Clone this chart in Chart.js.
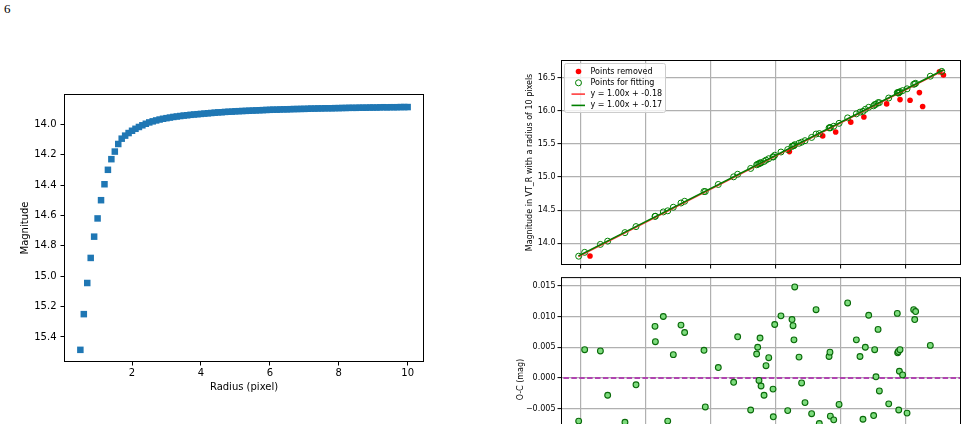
<!DOCTYPE html>
<html>
<head>
<meta charset="utf-8">
<script src="https://cdn.jsdelivr.net/npm/chart.js@4.4.1/dist/chart.umd.min.js"></script>
<style>
  html, body { margin: 0; padding: 0; overflow: hidden; background: #fff; width: 968px; height: 424px; }
  canvas { position: absolute; }
  #pagenum { position: absolute; left: 4px; top: 2px; font: 13px/13px "Liberation Serif", serif; color: #000; }
</style>
</head>
<body>
<div id="pagenum">6</div>
<canvas id="growth" width="440" height="320" style="left:0;top:80px"></canvas>
<canvas id="calib" width="468" height="232" style="left:500px;top:40px"></canvas>
<canvas id="resid" width="468" height="232" style="left:500px;top:272px"></canvas>
<script>
// --- curve of growth (left panel) ---
const radiusPx = [0.5, 0.6, 0.7, 0.8, 0.9, 1.0, 1.1, 1.2, 1.3, 1.4, 1.5, 1.6, 1.7, 1.8, 1.9,
  2.0, 2.1, 2.2, 2.3, 2.4, 2.5, 2.6, 2.7, 2.8, 2.9, 3.0, 3.1, 3.2, 3.3, 3.4, 3.5, 3.6, 3.7, 3.8, 3.9,
  4.0, 4.1, 4.2, 4.3, 4.4, 4.5, 4.6, 4.7, 4.8, 4.9, 5.0, 5.1, 5.2, 5.3, 5.4, 5.5, 5.6, 5.7, 5.8, 5.9,
  6.0, 6.1, 6.2, 6.3, 6.4, 6.5, 6.6, 6.7, 6.8, 6.9, 7.0, 7.1, 7.2, 7.3, 7.4, 7.5, 7.6, 7.7, 7.8, 7.9,
  8.0, 8.1, 8.2, 8.3, 8.4, 8.5, 8.6, 8.7, 8.8, 8.9, 9.0, 9.1, 9.2, 9.3, 9.4, 9.5, 9.6, 9.7, 9.8, 9.9, 10.0];
const magnitude = [15.485, 15.25, 15.045, 14.88, 14.74, 14.62, 14.50, 14.395, 14.30, 14.23, 14.18, 14.13, 14.095, 14.075, 14.058,
  14.043, 14.030, 14.018, 14.007, 13.997, 13.988, 13.981, 13.975, 13.969, 13.964, 13.960, 13.956, 13.952, 13.949, 13.946, 13.943, 13.941, 13.938, 13.936, 13.934,
  13.932, 13.930, 13.928, 13.926, 13.924, 13.922, 13.921, 13.919, 13.918, 13.917, 13.915, 13.914, 13.913, 13.912, 13.911, 13.910, 13.909, 13.908, 13.907, 13.906,
  13.905, 13.904, 13.904, 13.903, 13.902, 13.902, 13.901, 13.900, 13.900, 13.899, 13.899, 13.898, 13.897, 13.897, 13.896, 13.896, 13.895, 13.895, 13.895, 13.894,
  13.894, 13.893, 13.893, 13.892, 13.892, 13.892, 13.891, 13.891, 13.891, 13.890, 13.890, 13.890, 13.889, 13.888, 13.889, 13.888, 13.888, 13.888, 13.887, 13.887, 13.887];
const growthXTicks = [2, 4, 6, 8, 10];
const growthYTicks = [14.0, 14.2, 14.4, 14.6, 14.8, 15.0, 15.2, 15.4];

// --- calibration (right panels) ---
const fitCat = [13.982, 14.028, 14.149, 14.205, 14.338, 14.423, 14.569, 14.572, 14.633, 14.667,
  14.710, 14.769, 14.797, 14.946, 14.956, 15.056, 15.174, 15.205, 15.305, 15.351,
  15.359, 15.369, 15.377, 15.385, 15.408, 15.423, 15.444, 15.477, 15.479, 15.490,
  15.538, 15.590, 15.623, 15.631, 15.638, 15.644, 15.677, 15.697, 15.723, 15.774,
  15.808, 15.833, 15.908, 15.915, 15.918, 15.944, 15.985, 16.051, 16.118, 16.146,
  16.169, 16.187, 16.213, 16.251, 16.259, 16.269, 16.285, 16.295, 16.367, 16.433,
  16.436, 16.441, 16.444, 16.449, 16.454, 16.474, 16.508, 16.559, 16.567, 16.574,
  16.687, 16.775];
const fitVT = [13.805, 13.863, 13.983, 14.032, 14.161, 14.252, 14.407, 14.408, 14.473, 14.490,
  14.544, 14.608, 14.634, 14.781, 14.781, 14.888, 15.003, 15.042, 15.130, 15.185,
  15.194, 15.199, 15.214, 15.214, 15.235, 15.255, 15.277, 15.305, 15.303, 15.329,
  15.378, 15.415, 15.463, 15.470, 15.474, 15.489, 15.510, 15.526, 15.549, 15.598,
  15.649, 15.656, 15.742, 15.749, 15.742, 15.767, 15.811, 15.893, 15.954, 15.980,
  15.992, 16.022, 16.053, 16.075, 16.094, 16.099, 16.123, 16.123, 16.193, 16.274,
  16.270, 16.275, 16.269, 16.280, 16.289, 16.305, 16.332, 16.400, 16.407, 16.415,
  16.522, 16.595];
const fitOC = [-0.0070, 0.0046, 0.0044, -0.0028, -0.0072, -0.0011, 0.0084, 0.0059, 0.0100, -0.0070,
  0.0038, 0.0086, 0.0074, 0.0045, -0.0047, 0.0017, -0.0007, 0.0067, -0.0052, 0.0039,
  0.0050, -0.0004, 0.0065, -0.0013, -0.0028, 0.0020, 0.0033, -0.0018, -0.0063, 0.0087,
  0.0101, -0.0053, 0.0095, 0.0085, 0.0062, 0.0148, 0.0034, -0.0008, -0.0040, -0.0058,
  0.0111, -0.0074, 0.0035, 0.0042, -0.0062, -0.0068, -0.0043, 0.0122, 0.0062, 0.0035,
  -0.0067, 0.0050, 0.0102, -0.0061, 0.0046, 0.0002, 0.0079, -0.0021, -0.0042, 0.0105,
  0.0041, 0.0043, -0.0052, 0.0011, 0.0046, 0.0005, -0.0057, 0.0111, 0.0095, 0.0108,
  0.0053, -0.0100];
const removedCat = [14.069, 15.603, 15.859, 15.959, 16.075, 16.176, 16.351, 16.454, 16.531, 16.603, 16.628, 16.757, 16.788];
const removedVT = [13.808, 15.384, 15.621, 15.681, 15.829, 15.906, 16.104, 16.169, 16.160, 16.275, 16.064, 16.590, 16.540];
const lineCat = [13.98, 16.79];
const redLineVT = [13.80, 16.61];
const greenLineVT = [13.81, 16.62];
const zeroCat = [13.5, 17.5];
const zeroOC = [0, 0];
const catTicks = [14.0, 14.5, 15.0, 15.5, 16.0, 16.5];
const vtTicks = [14.0, 14.5, 15.0, 15.5, 16.0, 16.5];
const ocTicks = [-0.015, -0.010, -0.005, 0.000, 0.005, 0.010, 0.015];

Chart.defaults.font.family = 'DejaVu Sans';
Chart.defaults.color = '#000';
Chart.defaults.animation = false;

const pts = (xs, ys) => xs.map((x, i) => ({ x: x, y: ys[i] }));
const fixTicks = vals => axis => { axis.ticks = vals.map(v => ({ value: v })); };
const fixSize = (prop, size) => s => {
    s[prop] = size;
    s.paddingTop = 0; s.paddingBottom = 0; s.paddingLeft = 0; s.paddingRight = 0;
};
const minus = s => s.replace('-', '\u2212');

// black box round the axes
const frame = {
    id: 'frame',
    afterDatasetsDraw(chart) {
        const { ctx, chartArea: a } = chart;
        ctx.save();
        ctx.strokeStyle = '#000';
        ctx.lineWidth = 1;
        ctx.strokeRect(a.left + 0.5, a.top + 0.5, a.right - a.left - 1, a.bottom - a.top - 1);
        ctx.restore();
    }
};

// legend drawn inside the upper left corner of the axes
const insideLegend = {
    id: 'insideLegend',
    afterDraw(chart) {
        const { ctx, chartArea: a } = chart;
        const items = chart.data.datasets.filter(d => d.label);
        const x0 = a.left + 3.5, y0 = a.top + 3.5, w = 101, h = 49;
        ctx.save();
        ctx.beginPath();
        ctx.roundRect(x0, y0, w, h, 2);
        ctx.fillStyle = 'rgba(255,255,255,0.8)';
        ctx.fill();
        ctx.strokeStyle = '#cccccc';
        ctx.lineWidth = 1;
        ctx.stroke();
        ctx.font = '8px "DejaVu Sans"';
        ctx.textBaseline = 'middle';
        items.forEach((d, i) => {
            const cy = y0 + 8 + i * 11.3;
            if (d.showLine) {
                ctx.beginPath();
                ctx.moveTo(x0 + 7, cy);
                ctx.lineTo(x0 + 20.5, cy);
                ctx.strokeStyle = d.borderColor;
                ctx.lineWidth = d.borderWidth;
                ctx.stroke();
            } else {
                ctx.beginPath();
                ctx.arc(x0 + 14, cy, d.pointRadius, 0, Math.PI * 2);
                if (d.pointBackgroundColor !== 'transparent') {
                    ctx.fillStyle = d.pointBackgroundColor;
                    ctx.fill();
                }
                if (d.pointBorderWidth) {
                    ctx.strokeStyle = d.pointBorderColor;
                    ctx.lineWidth = d.pointBorderWidth;
                    ctx.stroke();
                }
            }
            ctx.fillStyle = '#000';
            ctx.fillText(d.label, x0 + 26, cy);
        });
        ctx.restore();
    }
};

// left: magnitude against aperture radius
new Chart(document.getElementById('growth'), {
    type: 'scatter',
    data: {
        datasets: [{
            data: pts(radiusPx, magnitude),
            pointStyle: 'rect',
            pointRadius: 4.6,
            pointBackgroundColor: '#1f77b4',
            pointBorderWidth: 0
        }]
    },
    options: {
        responsive: false,
        devicePixelRatio: 1,
        layout: { padding: { left: 0, top: 14, right: 16, bottom: 0 } },
        plugins: { legend: { display: false }, tooltip: { enabled: false } },
        scales: {
            x: {
                min: 0.025, max: 10.475,
                afterBuildTicks: fixTicks(growthXTicks),
                afterFit: fixSize('height', 38),
                border: { display: false },
                grid: { drawOnChartArea: false, tickLength: 3.5, tickColor: '#000', tickWidth: 1 },
                ticks: { font: { size: 10 }, padding: 1.5, callback: v => String(v) },
                title: { display: true, text: 'Radius (pixel)', font: { size: 10 }, padding: { top: 0, bottom: 6.5 } }
            },
            y: {
                reverse: true,
                min: 13.801, max: 15.565,
                afterBuildTicks: fixTicks(growthYTicks),
                afterFit: fixSize('width', 64),
                border: { display: false },
                grid: { drawOnChartArea: false, tickLength: 3.5, tickColor: '#000', tickWidth: 1 },
                ticks: { font: { size: 10 }, padding: 4, callback: v => v.toFixed(1) },
                title: { display: true, text: 'Magnitude', font: { size: 10 }, padding: { top: 19, bottom: 0 } }
            }
        }
    },
    plugins: [frame]
});

const gridStyle = { color: '#b0b0b0', lineWidth: 1.2, tickLength: 3.5, tickColor: '#000', tickWidth: 1 };

// right top: measured against catalogue magnitude
new Chart(document.getElementById('calib'), {
    type: 'scatter',
    data: {
        datasets: [{
            label: 'Points removed',
            data: pts(removedCat, removedVT),
            pointRadius: 2.8,
            pointBackgroundColor: '#ff0000',
            pointBorderWidth: 0,
            order: 3
        }, {
            label: 'Points for fitting',
            data: pts(fitCat, fitVT),
            pointRadius: 3,
            pointBackgroundColor: 'transparent',
            pointBorderColor: '#008000',
            pointBorderWidth: 1,
            order: 2
        }, {
            label: 'y = 1.00x + -0.18',
            data: pts(lineCat, redLineVT),
            showLine: true,
            borderColor: '#ff3030',
            borderWidth: 1.5,
            pointRadius: 0,
            order: 1
        }, {
            label: 'y = 1.00x + -0.17',
            data: pts(lineCat, greenLineVT),
            showLine: true,
            borderColor: '#008000',
            borderWidth: 1.6,
            pointRadius: 0,
            order: 0
        }]
    },
    options: {
        responsive: false,
        devicePixelRatio: 1,
        layout: { padding: { left: 0, top: 20, right: 7, bottom: 0 } },
        plugins: { legend: { display: false }, tooltip: { enabled: false } },
        scales: {
            x: {
                min: 13.846, max: 16.923,
                afterBuildTicks: fixTicks(catTicks),
                afterFit: fixSize('height', 7),
                border: { display: false },
                grid: gridStyle,
                ticks: { display: false }
            },
            y: {
                min: 13.672, max: 16.767,
                afterBuildTicks: fixTicks(vtTicks),
                afterFit: fixSize('width', 61),
                border: { display: false },
                grid: gridStyle,
                ticks: { font: { size: 8 }, padding: 2, callback: v => v.toFixed(1) },
                title: { display: true, text: 'Magnitude in VT_R with a radius of 10 pixels', font: { size: 8 }, padding: { top: 25.2, bottom: 0 } }
            }
        }
    },
    plugins: [frame, insideLegend]
});

// right bottom: O-C residuals
new Chart(document.getElementById('resid'), {
    type: 'scatter',
    data: {
        datasets: [{
            data: pts(fitCat, fitOC),
            pointRadius: 2.9,
            pointBackgroundColor: '#7edc7e',
            pointBorderColor: '#0a6a0a',
            pointBorderWidth: 1.1,
            order: 0
        }, {
            data: pts(zeroCat, zeroOC),
            showLine: true,
            borderColor: '#b044b0',
            borderWidth: 2,
            borderDash: [5.5, 2.4],
            pointRadius: 0,
            order: 1
        }]
    },
    options: {
        responsive: false,
        devicePixelRatio: 1,
        layout: { padding: { left: 0, top: 5, right: 7, bottom: 0 } },
        plugins: { legend: { display: false }, tooltip: { enabled: false } },
        scales: {
            x: {
                min: 13.846, max: 16.923,
                afterBuildTicks: fixTicks(catTicks),
                afterFit: fixSize('height', 22),
                border: { display: false },
                grid: gridStyle,
                ticks: { font: { size: 8 }, padding: 2, callback: v => v.toFixed(1) }
            },
            y: {
                min: -0.0169, max: 0.0164,
                afterBuildTicks: fixTicks(ocTicks),
                afterFit: fixSize('width', 61),
                border: { display: false },
                grid: gridStyle,
                ticks: { font: { size: 8 }, padding: 2, callback: v => minus(v.toFixed(3)) },
                title: { display: true, text: 'O-C (mag)', font: { size: 8 }, padding: { top: 16.2, bottom: 0 } }
            }
        }
    },
    plugins: [frame]
});
</script>
</body>
</html>
